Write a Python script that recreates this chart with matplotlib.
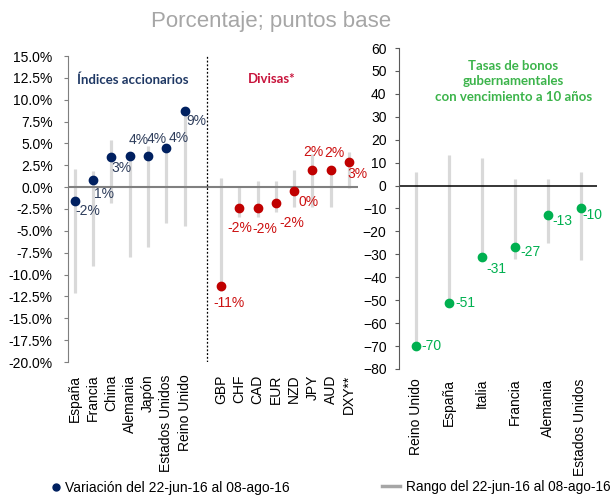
import numpy as np
import matplotlib
matplotlib.use("Agg")
import matplotlib.pyplot as plt
from matplotlib.lines import Line2D

plt.rcParams["font.family"] = ["Liberation Sans", "DejaVu Sans"]

# Índices accionarios (%): variación y rango del periodo
EQ_NAMES = ["España", "Francia", "China", "Alemania", "Japón", "Estados Unidos", "Reino Unido"]
EQ_VAL = [-1.6, 0.8, 3.4, 3.6, 3.6, 4.45, 8.75]
EQ_HI = [2.1, 1.9, 5.4, 3.8, 4.7, 4.5, 8.75]
EQ_LO = [-12.1, -9.0, -1.8, -8.0, -6.9, -4.1, -4.45]

# Divisas (%)
FX_NAMES = ["GBP", "CHF", "CAD", "EUR", "NZD", "JPY", "AUD", "DXY**"]
FX_VAL = [-11.3, -2.4, -2.4, -1.8, -0.4, 1.95, 2.0, 2.85]
FX_HI = [1.1, 0.0, 0.65, 0.75, 2.0, 3.8, 2.0, 4.0]
FX_LO = [-11.9, -3.4, -3.4, -2.9, -2.3, -2.3, -2.3, -0.1]

# Bonos a 10 años (pb)
BOND_NAMES = ["Reino Unido", "España", "Italia", "Francia", "Alemania", "Estados Unidos"]
BOND_VAL = [-70, -51, -31, -27, -13, -10]
BOND_HI = [6, 13.5, 12, 3, 3, 6]
BOND_LO = [-70, -51, -31, -32, -25, -32.5]

# label offsets (pixels, x right / y up)
EQ_OFF = [(13, -10), (11, -14), (10, -11), (9, 16), (9, 17), (12, 10), (12, -10)]
FX_OFF = [(8, -17), (0, -20), (7, -21), (16, -20), (14, -11), (1, 18), (4, 17), (8, -12)]
BOND_OFF = [(16, 0), (17, 0), (15, -12), (16, -5), (15, -6), (12, -6)]

NAVY, RED, GREEN = "#002060", "#C00000", "#00B050"
RANGE_C = "#D9D9D9"
FS = 10

W, H = 613, 498
fig = plt.figure(figsize=(W / 100, H / 100), dpi=100)
axL = fig.add_axes([68 / W, 1 - 362 / H, 290 / W, 306 / H])
axR = fig.add_axes([399 / W, 1 - 369 / H, 198 / W, 321 / H])


def style(ax, spine_c):
    for s in ["top", "right", "bottom"]:
        ax.spines[s].set_visible(False)
    ax.spines["left"].set_color(spine_c)
    ax.tick_params(axis="x", length=0, labelrotation=90, labelsize=FS)
    ax.tick_params(axis="y", length=3, color=spine_c, labelsize=FS, direction="out")


def series(ax, x, val, lo, hi, color, txt_color, offs, fmt):
    ax.vlines(x, lo, hi, color=RANGE_C, lw=2.3, zorder=1)
    ax.plot(x, val, "o", ms=6, color=color, zorder=3)
    for xi, v, (dx, dy) in zip(x, val, offs):
        ax.annotate(fmt(v), (xi, v), xytext=(dx, dy), textcoords="offset pixels",
                    ha="center", va="center", fontsize=FS, color=txt_color)


pct = lambda v: f"{round(v):d}%"

# left panel: equities + currencies
xe = np.arange(len(EQ_NAMES))
xf = len(EQ_NAMES) + 1 + np.arange(len(FX_NAMES))
axL.axhline(0, color="#808080", lw=1.5, zorder=2)
series(axL, xe, EQ_VAL, EQ_LO, EQ_HI, NAVY, "#2F3E5C", EQ_OFF, pct)
series(axL, xf, FX_VAL, FX_LO, FX_HI, RED, "#CC1111", FX_OFF, pct)
axL.axvline(7.22, color="black", lw=0.9, ls=(0, (1.5, 1.5)))
axL.set_xlim(-0.38, 15.49)
axL.set_ylim(-20, 15)
axL.set_yticks(np.arange(-20, 15.1, 2.5))
axL.set_yticklabels([f"{t:.1f}%" for t in np.arange(-20, 15.1, 2.5)])
axL.set_xticks(np.concatenate([xe, xf]))
axL.set_xticklabels(EQ_NAMES + FX_NAMES)
style(axL, "#7F7F7F")
axL.tick_params(axis="y", pad=8)
axL.tick_params(axis="x", pad=9)
axL.text(0.12, 12.3, "Índices accionarios", family="Lato", fontweight="bold",
         fontsize=9.5, color="#1F3864", va="center", ha="left")
axL.text(10.75, 12.4, "Divisas*", family="Lato", fontweight="bold",
         fontsize=9.5, color="#C8143C", va="center", ha="center")

# right panel: 10y government bonds
xb = np.arange(len(BOND_NAMES))
axR.axhline(0, color="black", lw=1.1, zorder=2)
series(axR, xb, BOND_VAL, BOND_LO, BOND_HI, GREEN, GREEN, BOND_OFF, lambda v: f"{round(v):d}")
axR.set_xlim(-0.5, 5.5)
axR.set_ylim(-80, 60)
axR.set_yticks(np.arange(-80, 61, 10))
axR.set_xticks(xb)
axR.set_xticklabels(BOND_NAMES)
style(axR, "#595959")
axR.tick_params(axis="y", pad=6)
axR.tick_params(axis="x", pad=7)
axR.text(2.97, 45.5, "Tasas de bonos\ngubernamentales\ncon vencimiento a 10 años",
         family="Lato", fontweight="bold", fontsize=9.5, color="#3CB44B",
         ha="center", va="center", linespacing=1.35)

fig.text(271 / W, 1 - 22 / H, "Porcentaje; puntos base", ha="center", va="center",
         fontsize=16, color="#A6A6A6")

fig.legend(handles=[Line2D([], [], marker="o", ls="", color=NAVY, ms=5)],
           labels=["Variación del 22-jun-16 al 08-ago-16"], loc="center left",
           bbox_to_anchor=(50 / W, 1 - 488 / H), frameon=False, fontsize=FS,
           handlelength=0.8, handletextpad=0.3, borderpad=0, borderaxespad=0)
fig.legend(handles=[Line2D([], [], color="#A6A6A6", lw=2.5)],
           labels=["Rango del 22-jun-16 al 08-ago-16"], loc="center left",
           bbox_to_anchor=(382 / W, 1 - 487 / H), frameon=False, fontsize=9.8,
           handlelength=1.3, handletextpad=0.5, borderpad=0, borderaxespad=0)

fig.savefig("out.png", dpi=100)
